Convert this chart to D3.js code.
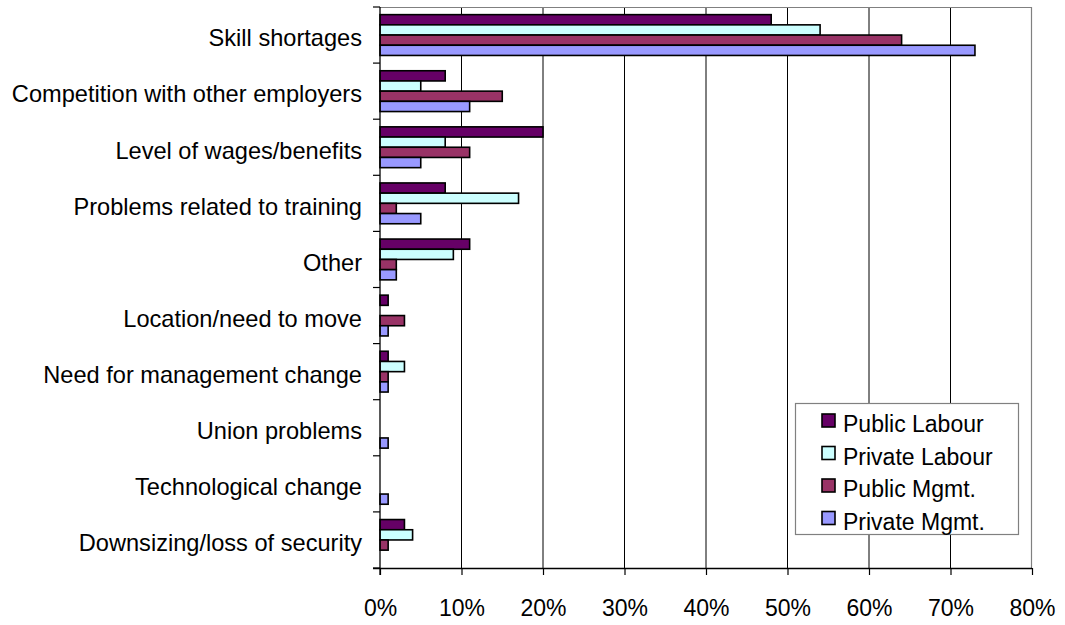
<!DOCTYPE html>
<html>
<head>
<meta charset="utf-8">
<script src="https://cdn.jsdelivr.net/npm/d3@7"></script>
<style>
  html, body { margin: 0; padding: 0; background: #fff; }
  svg { display: block; }
  text { font-family: "Liberation Sans", Arial, sans-serif; fill: #000; }
</style>
</head>
<body>
<script>
// Reasons reported for hiring difficulties, by sector and staff group (% of respondents)
const categories = [
  "Skill shortages",
  "Competition with other employers",
  "Level of wages/benefits",
  "Problems related to training",
  "Other",
  "Location/need to move",
  "Need for management change",
  "Union problems",
  "Technological change",
  "Downsizing/loss of security"
];
const seriesNames = ["Public Labour", "Private Labour", "Public Mgmt.", "Private Mgmt."];
const publicLabour  = [48, 8, 20, 8, 11, 1, 1, 0, 0, 3];
const privateLabour = [54, 5, 8, 17, 9, 0, 3, 0, 0, 4];
const publicMgmt    = [64, 15, 11, 2, 2, 3, 1, 0, 0, 1];
const privateMgmt   = [73, 11, 5, 5, 2, 1, 1, 1, 1, 0];
const xTicks = [0, 10, 20, 30, 40, 50, 60, 70, 80];
const colors = ["#660066", "#CCFFFF", "#993366", "#9999FF"];

const seriesValues = [publicLabour, privateLabour, publicMgmt, privateMgmt];

const W = 1065, H = 625;
const plot = { left: 380, top: 7, right: 1032, bottom: 568 };

const svg = d3.select("body").append("svg").attr("width", W).attr("height", H);

const x = d3.scaleLinear().domain([0, 80]).range([plot.left, plot.right]);
const y = d3.scaleBand().domain(categories).range([plot.top, plot.bottom]).padding(0);
const ySub = d3.scaleBand().domain(seriesNames).range([0, y.bandwidth()])
  .paddingInner(0).paddingOuter(0.75);

// vertical gridlines
svg.append("g")
  .selectAll("line")
  .data(xTicks.filter(t => t > 0 && t < 80))
  .join("line")
  .attr("x1", d => x(d)).attr("x2", d => x(d))
  .attr("y1", plot.top).attr("y2", plot.bottom)
  .attr("stroke", "#000").attr("stroke-width", 1);

// plot frame (top and right edges)
svg.append("path")
  .attr("d", `M${plot.left},${plot.top + 0.5}H${plot.right - 0.5}V${plot.bottom}`)
  .attr("fill", "none").attr("stroke", "#808080").attr("stroke-width", 1.2);

// bars
const rows = categories.map((c, i) => ({ cat: c, vals: seriesNames.map((s, j) => ({ s, j, v: seriesValues[j][i] })) }));
const groups = svg.append("g").selectAll("g").data(rows).join("g")
  .attr("transform", d => `translate(0,${y(d.cat)})`);
groups.selectAll("rect")
  .data(d => d.vals.filter(e => e.v > 0))
  .join("rect")
  .attr("x", x(0))
  .attr("y", d => ySub(d.s))
  .attr("width", d => x(d.v) - x(0))
  .attr("height", ySub.bandwidth())
  .attr("fill", d => colors[d.j])
  .attr("stroke", "#000").attr("stroke-width", 1.6);

// left (category) axis
const yAxisG = svg.append("g");
yAxisG.append("line")
  .attr("x1", plot.left).attr("x2", plot.left)
  .attr("y1", plot.top).attr("y2", plot.bottom + 7)
  .attr("stroke", "#000").attr("stroke-width", 1.3);
const boundaries = categories.map(c => y(c)).concat([plot.bottom]);
yAxisG.selectAll("line.tick").data(boundaries).join("line")
  .attr("class", "tick")
  .attr("x1", plot.left - 7).attr("x2", plot.left)
  .attr("y1", d => d).attr("y2", d => d)
  .attr("stroke", "#000").attr("stroke-width", 1.2);
yAxisG.selectAll("text").data(categories).join("text")
  .attr("x", plot.left - 18)
  .attr("y", d => y(d) + y.bandwidth() / 2 + 3)
  .attr("dy", "0.35em")
  .attr("text-anchor", "end")
  .style("font-size", "23.6px")
  .text(d => d);

// bottom (value) axis
const xAxis = d3.axisBottom(x)
  .tickValues(xTicks)
  .tickSize(7)
  .tickPadding(25)
  .tickFormat(d => d + "%");
const xAxisG = svg.append("g")
  .attr("transform", `translate(0,${plot.bottom})`)
  .call(xAxis);
xAxisG.select(".domain").attr("stroke", "#000").attr("stroke-width", 1.3)
  .attr("d", `M${plot.left - 7},0.5H${plot.right}`);
xAxisG.selectAll(".tick line").attr("stroke", "#000").attr("stroke-width", 1.2);
xAxisG.selectAll(".tick text")
  .style("font-size", "23px")
  .style("font-family", "'Liberation Sans', Arial, sans-serif")
  .attr("fill", "#000");

// legend
const legend = svg.append("g");
legend.append("rect")
  .attr("x", 795.5).attr("y", 403.5).attr("width", 223).attr("height", 131)
  .attr("fill", "#fff").attr("stroke", "#808080").attr("stroke-width", 1.2);
const legendRows = legend.selectAll("g").data(seriesNames).join("g")
  .attr("transform", (d, i) => `translate(0,${424 + i * 32.5})`);
legendRows.append("rect")
  .attr("x", 822).attr("y", -10).attr("width", 13).attr("height", 13)
  .attr("fill", (d, i) => colors[i])
  .attr("stroke", "#000").attr("stroke-width", 1.6);
legendRows.append("text")
  .attr("x", 843).attr("y", 0).attr("dy", "0.35em")
  .style("font-size", "23px")
  .text(d => d);
</script>
</body>
</html>
